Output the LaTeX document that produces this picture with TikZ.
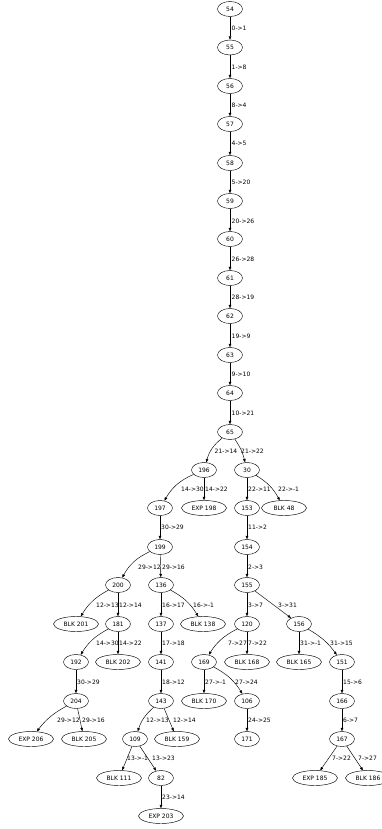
\documentclass[tikz,border=0pt]{standalone}
\usepackage{fontspec}
\setmainfont{DejaVu Sans}
\usetikzlibrary{shapes.geometric,arrows.meta}
\begin{document}
\begin{tikzpicture}[x=1pt,y=-1pt,
  nd/.style={ellipse,draw=black,line width=0.45pt,inner sep=0pt,minimum width=25pt,minimum height=15pt,font=\fontsize{6}{7}\selectfont},
  wd/.style={nd,minimum width=45pt},
  lbl/.style={anchor=west,inner sep=0pt,font=\fontsize{6}{7}\selectfont},
  edg/.style={draw=black,line width=0.45pt,-{Triangle[length=3.4pt,width=2.6pt]}}]
\useasboundingbox (0,0) rectangle (381,829);
% nodes
\node[nd] (n54) at (230,9) {54};
\node[nd] (n55) at (230,47.5) {55};
\node[nd] (n56) at (230,86) {56};
\node[nd] (n57) at (230,124) {57};
\node[nd] (n58) at (230,163) {58};
\node[nd] (n59) at (230,201) {59};
\node[nd] (n60) at (230,239) {60};
\node[nd] (n61) at (230,278) {61};
\node[nd] (n62) at (230,316) {62};
\node[nd] (n63) at (230,355) {63};
\node[nd] (n64) at (230,393) {64};
\node[nd] (n65) at (230,432) {65};
\node[nd] (n196) at (204,470) {196};
\node[nd] (n30) at (247,470) {30};
\node[nd] (n197) at (160,508) {197};
\node[wd] (e198) at (204,508) {EXP 198};
\node[nd] (n153) at (247,508) {153};
\node[wd] (b48) at (284,508) {BLK 48};
\node[nd] (n199) at (160,547) {199};
\node[nd] (n154) at (247,547) {154};
\node[nd] (n200) at (118,585) {200};
\node[nd] (n136) at (161,585) {136};
\node[nd] (n155) at (247,585) {155};
\node[wd] (b201) at (76,624) {BLK 201};
\node[nd] (n181) at (118,624) {181};
\node[nd] (n137) at (161,624) {137};
\node[wd] (b138) at (203,624) {BLK 138};
\node[nd] (n120) at (247,624) {120};
\node[nd] (n156) at (299,624) {156};
\node[nd] (n192) at (76,662) {192};
\node[wd] (b202) at (118,662) {BLK 202};
\node[nd] (n141) at (161,662) {141};
\node[nd] (n169) at (204,662) {169};
\node[wd] (b168) at (247,662) {BLK 168};
\node[wd] (b165) at (299,662) {BLK 165};
\node[nd] (n151) at (342,662) {151};
\node[nd] (n204) at (76,701) {204};
\node[nd] (n143) at (161,701) {143};
\node[wd] (b170) at (204,701) {BLK 170};
\node[nd] (n106) at (247,701) {106};
\node[nd] (n166) at (342,701) {166};
\node[wd] (e206) at (31,739) {EXP 206};
\node[wd] (b205) at (84,739) {BLK 205};
\node[nd] (n109) at (135,739) {109};
\node[wd] (b159) at (177,739) {BLK 159};
\node[nd] (n171) at (247,739) {171};
\node[nd] (n167) at (342,739) {167};
\node[wd] (b111) at (119,778) {BLK 111};
\node[nd] (n82) at (161,778) {82};
\node[wd] (e185) at (315,778) {EXP 185};
\node[wd] (b186) at (368,778) {BLK 186};
\node[wd] (e203) at (161,816) {EXP 203};
% edges
\draw[edg] (n54) -- (n55);
\draw[edg] (n55) -- (n56);
\draw[edg] (n56) -- (n57);
\draw[edg] (n57) -- (n58);
\draw[edg] (n58) -- (n59);
\draw[edg] (n59) -- (n60);
\draw[edg] (n60) -- (n61);
\draw[edg] (n61) -- (n62);
\draw[edg] (n62) -- (n63);
\draw[edg] (n63) -- (n64);
\draw[edg] (n64) -- (n65);
\draw[edg] (n65) to[bend right=18] (n196);
\draw[edg] (n65) to[bend left=10] (n30);
\draw[edg] (n196) to[bend right=18] (n197);
\draw[edg] (n196) -- (e198);
\draw[edg] (n30) -- (n153);
\draw[edg] (n30) to[bend left=15] (b48);
\draw[edg] (n197) -- (n199);
\draw[edg] (n153) -- (n154);
\draw[edg] (n199) to[bend right=18] (n200);
\draw[edg] (n199) -- (n136);
\draw[edg] (n154) -- (n155);
\draw[edg] (n200) to[bend right=15] (b201);
\draw[edg] (n200) -- (n181);
\draw[edg] (n136) -- (n137);
\draw[edg] (n136) to[bend left=15] (b138);
\draw[edg] (n155) -- (n120);
\draw[edg] (n155) -- (n156);
\draw[edg] (n181) to[bend right=15] (n192);
\draw[edg] (n181) -- (b202);
\draw[edg] (n137) -- (n141);
\draw[edg] (n120) to[bend right=15] (n169);
\draw[edg] (n120) -- (b168);
\draw[edg] (n156) -- (b165);
\draw[edg] (n156) to[bend left=12] (n151);
\draw[edg] (n192) -- (n204);
\draw[edg] (n141) -- (n143);
\draw[edg] (n169) -- (b170);
\draw[edg] (n169) to[bend left=15] (n106);
\draw[edg] (n151) -- (n166);
\draw[edg] (n204) to[bend right=12] (e206);
\draw[edg] (n204) -- (b205);
\draw[edg] (n143) to[bend right=15] (n109);
\draw[edg] (n143) -- (b159);
\draw[edg] (n106) -- (n171);
\draw[edg] (n166) -- (n167);
\draw[edg] (n109) -- (b111);
\draw[edg] (n109) -- (n82);
\draw[edg] (n167) -- (e185);
\draw[edg] (n167) -- (b186);
\draw[edg] (n82) -- (e203);
% edge labels
\node[lbl] (t1) at (231.5,28) {0->1};
\node[lbl] (t2) at (231.5,67) {1->8};
\node[lbl] (t3) at (231.5,105) {8->4};
\node[lbl] (t4) at (231.5,143) {4->5};
\node[lbl] (t5) at (231.5,182) {5->20};
\node[lbl] (t6) at (231.5,221) {20->26};
\node[lbl] (t7) at (231.5,259) {26->28};
\node[lbl] (t8) at (231.5,297) {28->19};
\node[lbl] (t9) at (231.5,336) {19->9};
\node[lbl] (t10) at (231.5,374) {9->10};
\node[lbl] (t11) at (231.5,413) {10->21};
\node[lbl] (t12) at (214.5,451) {21->14};
\node[lbl] (t13) at (241,451) {21->22};
\node[lbl] (t14) at (181,489) {14->30};
\node[lbl] (t15) at (205,489) {14->22};
\node[lbl] (t16) at (248,489) {22->11};
\node[lbl] (t17) at (278,489) {22->-1};
\node[lbl] (t18) at (161,527) {30->29};
\node[lbl] (t19) at (248,527) {11->2};
\node[lbl] (t20) at (138,567) {29->12};
\node[lbl] (t21) at (162,567) {29->16};
\node[lbl] (t22) at (248,567) {2->3};
\node[lbl] (t23) at (96,605) {12->13};
\node[lbl] (t24) at (119,605) {12->14};
\node[lbl] (t25) at (162,605) {16->17};
\node[lbl] (t26) at (193,605) {16->-1};
\node[lbl] (t27) at (248,605) {3->7};
\node[lbl] (t28) at (278,605) {3->31};
\node[lbl] (t29) at (96,643) {14->30};
\node[lbl] (t30) at (119,643) {14->22};
\node[lbl] (t31) at (162,643) {17->18};
\node[lbl] (t32) at (228,643) {7->27};
\node[lbl] (t33) at (248,643) {7->22};
\node[lbl] (t34) at (300,643) {31->-1};
\node[lbl] (t35) at (330,643) {31->15};
\node[lbl] (t36) at (77,682) {30->29};
\node[lbl] (t37) at (162,682) {18->12};
\node[lbl] (t38) at (205,682) {27->-1};
\node[lbl] (t39) at (235,682) {27->24};
\node[lbl] (t40) at (343,682) {15->6};
\node[lbl] (t41) at (57,720) {29->12};
\node[lbl] (t42) at (82,720) {29->16};
\node[lbl] (t43) at (146,720) {12->13};
\node[lbl] (t44) at (173,720) {12->14};
\node[lbl] (t45) at (248,720) {24->25};
\node[lbl] (t46) at (343,720) {6->7};
\node[lbl] (t47) at (127,758) {13->-1};
\node[lbl] (t48) at (152,758) {13->23};
\node[lbl] (t49) at (332,758) {7->22};
\node[lbl] (t50) at (358,758) {7->27};
\node[lbl] (t51) at (162,797) {23->14};
\end{tikzpicture}
\end{document}
